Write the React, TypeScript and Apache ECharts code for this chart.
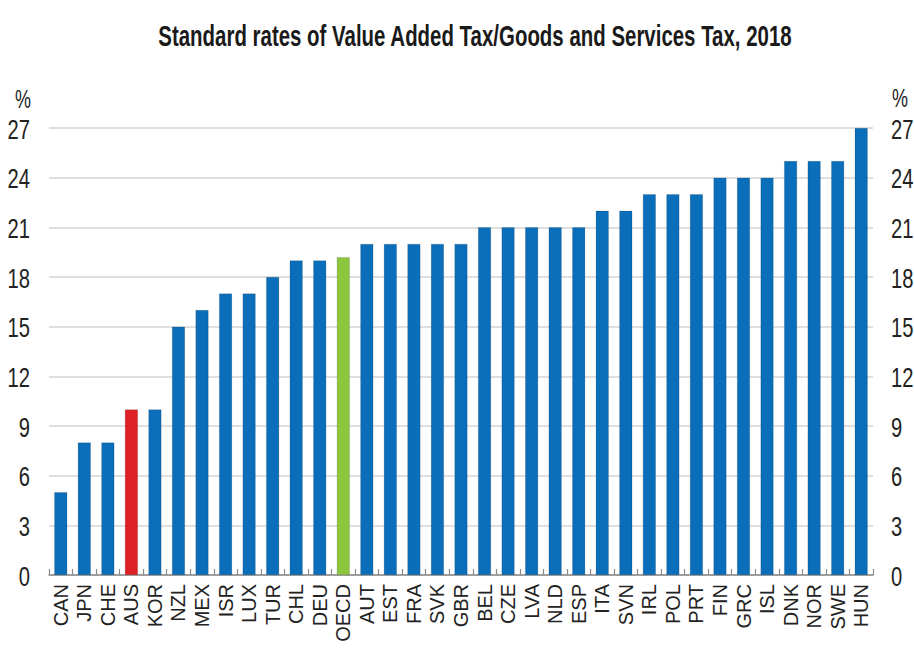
import React, { useEffect, useRef } from "react";
import * as echarts from "echarts";

const categories = ["CAN","JPN","CHE","AUS","KOR","NZL","MEX","ISR","LUX","TUR","CHL","DEU","OECD","AUT","EST","FRA","SVK","GBR","BEL","CZE","LVA","NLD","ESP","ITA","SVN","IRL","POL","PRT","FIN","GRC","ISL","DNK","NOR","SWE","HUN"];
const vatRates = [5,8,8,10,10,15,16,17,17,18,19,19,19.2,20,20,20,20,20,21,21,21,21,21,22,22,23,23,23,24,24,24,25,25,25,27];
const yTicks = [0,3,6,9,12,15,18,21,24,27];
const titleText = "Standard rates of Value Added Tax/Goods and Services Tax, 2018";
const unitLabel = "%";

const BLUE = "#0A6EBA";
const RED = "#DD1F26";
const GREEN = "#8CC63F";
const FONT = "'Liberation Sans', Arial, sans-serif";
const NARROW = 0.72;

function measure(text: string, font: string): number {
  const c = document.createElement("canvas");
  const ctx = c.getContext("2d");
  if (!ctx) return text.length * 15;
  ctx.font = font;
  return ctx.measureText(text).width;
}

export default function App() {
  const ref = useRef<HTMLDivElement>(null);
  useEffect(() => {
    if (!ref.current) return;
    document.body.style.overflow = "hidden";
    const chart = echarts.init(ref.current, null, { renderer: "svg" });
    const yMin = yTicks[0];
    const yMax = yTicks[yTicks.length - 1];
    const yAxisBase = {
      type: "value" as const,
      min: yMin,
      max: yMax,
      interval: 3,
      axisLine: { show: false },
      axisTick: { show: false },
      axisLabel: { show: false },
    };
    chart.setOption({
      animation: false,
      backgroundColor: "#ffffff",
      grid: { left: 49, right: 41, top: 128, bottom: 78 },
      xAxis: {
        type: "category",
        data: categories,
        axisLine: { lineStyle: { color: "#8a8a8a", width: 1.5 } },
        axisTick: { show: true, inside: true, length: 6, lineStyle: { color: "#8a8a8a", width: 1.2 } },
        axisLabel: {
          rotate: 90,
          interval: 0,
          margin: 9,
          fontFamily: FONT,
          fontSize: 20,
          color: "#222",
        },
      },
      yAxis: [
        {
          ...yAxisBase,
          position: "left",
          splitLine: { show: true, lineStyle: { color: "#d4d4d4", width: 1.5 } },
        },
        {
          ...yAxisBase,
          position: "right",
          splitLine: { show: false },
        },
      ],
      series: [
        {
          type: "bar",
          barWidth: "55%",
          data: categories.map((c, i) => ({
            value: vatRates[i],
            itemStyle: {
              color: c === "AUS" ? RED : c === "OECD" ? GREEN : BLUE,
              borderColor: "rgba(0,0,0,0.25)",
              borderWidth: 0.5,
            },
          })),
        },
      ],
    });

    const titleFont = `bold 29px ${FONT}`;
    const titleScale = 634 / measure(titleText, titleFont);
    const yFont = `28px ${FONT}`;
    const graphics: any[] = [
      {
        type: "text",
        x: 475,
        y: 36,
        scaleX: titleScale,
        style: { x: 0, y: 0, text: titleText, font: titleFont, fill: "#1a1a1a", align: "center", verticalAlign: "middle" },
      },
      {
        type: "text",
        x: 31,
        y: 99,
        scaleX: NARROW,
        style: { x: 0, y: 0, text: unitLabel, font: `25px ${FONT}`, fill: "#222", align: "right", verticalAlign: "middle" },
      },
      {
        type: "text",
        x: 892,
        y: 98,
        scaleX: NARROW,
        style: { x: 0, y: 0, text: unitLabel, font: `25px ${FONT}`, fill: "#222", align: "left", verticalAlign: "middle" },
      },
    ];
    const leftX = chart.convertToPixel({ xAxisIndex: 0 }, categories[0]) as number;
    const rightX = chart.convertToPixel({ xAxisIndex: 0 }, categories[categories.length - 1]) as number;
    const band = (rightX - leftX) / (categories.length - 1);
    const plotLeft = leftX - band / 2;
    const plotRight = rightX + band / 2;
    yTicks.forEach((t) => {
      const py = chart.convertToPixel({ yAxisIndex: 0 }, t) as number;
      graphics.push({
        type: "text",
        x: plotLeft - 19,
        y: py + 1,
        scaleX: NARROW,
        style: { x: 0, y: 0, text: String(t), font: yFont, fill: "#222", align: "right", verticalAlign: "middle" },
      });
      graphics.push({
        type: "text",
        x: plotRight + 18,
        y: py + 1,
        scaleX: NARROW,
        style: { x: 0, y: 0, text: String(t), font: yFont, fill: "#222", align: "left", verticalAlign: "middle" },
      });
    });
    chart.setOption({ graphic: graphics });
    return () => chart.dispose();
  }, []);
  return <div ref={ref} style={{ position: "fixed", left: 0, top: 0, width: 914, height: 653 }} />;
}
